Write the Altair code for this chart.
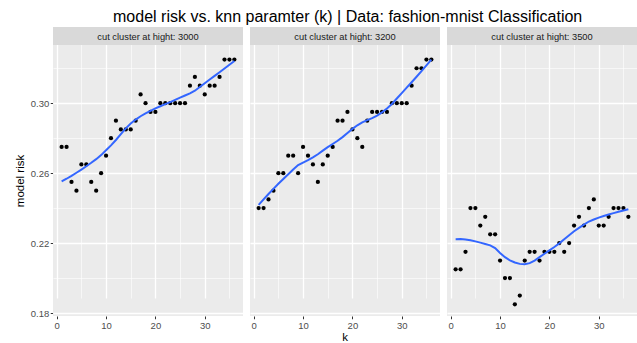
import altair as alt
import pandas as pd

k_values = [1, 2, 3, 4, 5, 6, 7, 8, 9, 10, 11, 12, 13, 14, 15, 16, 17, 18,
            19, 20, 21, 22, 23, 24, 25, 26, 27, 28, 29, 30, 31, 32, 33, 34, 35, 36]

panel_labels = ["cut cluster at hight: 3000",
                "cut cluster at hight: 3200",
                "cut cluster at hight: 3500"]

risk_3000 = [0.275, 0.275, 0.255, 0.250, 0.265, 0.265, 0.255, 0.250, 0.260, 0.270,
             0.280, 0.290, 0.285, 0.285, 0.285, 0.290, 0.305, 0.300, 0.295, 0.295,
             0.300, 0.300, 0.300, 0.300, 0.300, 0.300, 0.310, 0.315, 0.310, 0.305,
             0.310, 0.310, 0.315, 0.325, 0.325, 0.325]

risk_3200 = [0.240, 0.240, 0.245, 0.250, 0.260, 0.260, 0.270, 0.270, 0.260, 0.275,
             0.270, 0.265, 0.255, 0.265, 0.270, 0.275, 0.290, 0.290, 0.295, 0.285,
             0.280, 0.275, 0.290, 0.295, 0.295, 0.295, 0.295, 0.300, 0.300, 0.300,
             0.300, 0.310, 0.320, 0.320, 0.325, 0.325]

risk_3500 = [0.205, 0.205, 0.215, 0.240, 0.240, 0.230, 0.235, 0.225, 0.225, 0.210,
             0.200, 0.200, 0.185, 0.190, 0.210, 0.215, 0.215, 0.210, 0.215, 0.215,
             0.215, 0.220, 0.215, 0.220, 0.230, 0.235, 0.230, 0.240, 0.245, 0.230,
             0.230, 0.235, 0.240, 0.240, 0.240, 0.235]

x_ticks = [0, 5, 10, 15, 20, 25, 30, 35]
y_ticks = [0.18, 0.20, 0.22, 0.24, 0.26, 0.28, 0.30, 0.32]

rows = []
for lab, series in zip(panel_labels, [risk_3000, risk_3200, risk_3500]):
    for kk, r in zip(k_values, series):
        rows.append({"label": lab, "k": kk, "risk": r})
df = pd.DataFrame(rows)

PW = 190
STRIP = 18
PH = 271
FONT = "Liberation Sans"

x_scale = alt.Scale(domain=[-0.75, 37.75], nice=False, zero=False)
y_scale = alt.Scale(domain=[0.1783, 0.3333], nice=False, zero=False,
                    range=[STRIP + PH, STRIP])

X_MAJOR = "datum.value % 10 == 0"
Y_MAJOR = "round(datum.value * 100) % 4 == 2"

x_axis = alt.Axis(
    values=x_ticks, title=None, grid=True, domain=False,
    labelExpr=f"{X_MAJOR} ? datum.label : ''",
    gridWidth={"condition": {"test": X_MAJOR, "value": 1.3}, "value": 0.6},
    tickOpacity={"condition": {"test": X_MAJOR, "value": 1}, "value": 0},
)
y_axis = alt.Axis(
    values=y_ticks, title="model risk", grid=True, domain=False, format=".2f",
    labelExpr=f"{Y_MAJOR} ? datum.label : ''",
    gridWidth={"condition": {"test": Y_MAJOR, "value": 1.3}, "value": 0.6},
    tickOpacity={"condition": {"test": Y_MAJOR, "value": 1}, "value": 0},
    titleY=STRIP + PH / 2,
)

base = alt.Chart()

points = base.mark_circle(size=18, color="black", opacity=1).encode(
    x=alt.X("k:Q", scale=x_scale, axis=x_axis),
    y=alt.Y("risk:Q", scale=y_scale, axis=y_axis),
)

smooth = base.transform_loess(
    "k", "risk", groupby=["label"], bandwidth=0.48
).mark_line(color="#3366FF", strokeWidth=2).encode(
    x=alt.X("k:Q", scale=x_scale, axis=x_axis),
    y=alt.Y("risk:Q", scale=y_scale, axis=y_axis),
)

strip_rect = base.transform_filter("datum.k == 1").mark_rect(color="#D9D9D9").encode(
    x=alt.value(0), x2=alt.value(PW), y=alt.value(0), y2=alt.value(STRIP)
)
strip_text = base.transform_filter("datum.k == 1").mark_text(
    font=FONT, fontSize=9.3, color="#1A1A1A", baseline="middle", align="center"
).encode(
    x=alt.value(PW / 2), y=alt.value(STRIP / 2 + 0.5), text="label:N"
)

layered = alt.layer(points, smooth, strip_rect, strip_text, data=df).properties(
    width=PW, height=STRIP + PH
)

chart = layered.facet(
    column=alt.Column("label:N", title="k",
                      header=alt.Header(labels=False, titleOrient="bottom",
                                        titleFont=FONT, titleFontSize=11.5,
                                        titleFontWeight="normal", titleColor="black",
                                        titlePadding=-8)),
    spacing=7,
).properties(
    title=alt.Title("model risk vs. knn paramter (k) | Data: fashion-mnist Classification",
                    font=FONT, fontSize=16, fontWeight="normal", color="black",
                    anchor="middle", offset=2, dx=22),
    padding={"left": 14, "top": 9, "right": 0, "bottom": 0},
).configure_view(
    fill="#EBEBEB", stroke=None
).configure_axis(
    labelFont=FONT, labelFontSize=9.5, labelColor="#4D4D4D",
    tickColor="#333333", tickSize=2.75, tickWidth=1, labelPadding=1.5,
    gridColor="white", titleFont=FONT, titleFontSize=11.5, titleFontWeight="normal",
    titleColor="black", titlePadding=5,
)

chart.save("out.html", embed_options={"renderer": "svg", "actions": False})
